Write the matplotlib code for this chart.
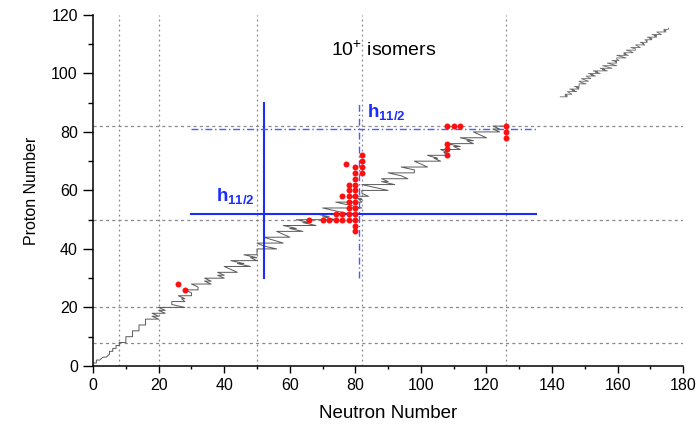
import matplotlib
matplotlib.use("Agg")
import matplotlib.pyplot as plt
import numpy as np
from matplotlib.ticker import MultipleLocator

plt.rcParams['font.family'] = ['Liberation Sans', 'DejaVu Sans']
plt.rcParams['mathtext.fontset'] = 'custom'
plt.rcParams['mathtext.rm'] = 'Liberation Sans'
plt.rcParams['mathtext.bf'] = 'Liberation Sans:bold'

# Line of stable nuclides: for each Z, lightest and heaviest stable N
stable_Z = [1, 2, 3, 4, 5, 6, 7, 8, 9, 10, 11, 12, 13, 14, 15, 16, 17, 18, 19, 20,
            21, 22, 23, 24, 25, 26, 27, 28, 29, 30, 31, 32, 33, 34, 35, 36, 37, 38, 39, 40,
            41, 42, 44, 45, 46, 47, 48, 49, 50, 51, 52, 53, 54, 55, 56, 57, 58, 59, 60,
            62, 63, 64, 65, 66, 67, 68, 69, 70, 71, 72, 73, 74, 75, 76, 77, 78, 79, 80,
            81, 82, 83]
stable_Nmin = [0, 1, 3, 5, 5, 6, 7, 8, 10, 10, 12, 12, 14, 14, 16, 16, 18, 18, 20, 20,
               24, 24, 27, 26, 30, 28, 32, 30, 34, 34, 38, 38, 42, 40, 44, 42, 48, 46, 50, 50,
               52, 50, 52, 58, 56, 60, 58, 64, 62, 70, 68, 74, 70, 78, 74, 81, 78, 82, 82,
               82, 88, 88, 94, 90, 98, 94, 100, 98, 104, 102, 107, 106, 110, 108, 114, 112, 118, 116,
               122, 122, 126]
stable_Nmax = [1, 2, 4, 5, 6, 7, 8, 10, 10, 12, 12, 14, 14, 16, 16, 20, 20, 22, 22, 28,
               24, 28, 28, 30, 30, 32, 32, 36, 36, 40, 40, 44, 42, 48, 46, 50, 50, 50, 50, 56,
               52, 58, 60, 58, 64, 62, 68, 66, 74, 72, 78, 74, 82, 78, 82, 82, 84, 82, 90,
               92, 90, 96, 94, 98, 98, 102, 100, 106, 105, 108, 108, 112, 112, 116, 116, 120, 118, 124,
               124, 126, 126]

# 10+ isomers (neutron number, proton number)
iso_N = [26, 28, 66, 70, 72, 74, 76, 78, 80,
         74, 76, 78, 80, 78, 80, 78, 80, 76, 78, 80, 78, 80, 78, 80,
         80, 80, 82, 80, 82, 82, 82, 77, 80, 80,
         108, 110, 112, 108, 108, 108, 126, 126, 126]
iso_Z = [28, 26, 50, 50, 50, 50, 50, 50, 50,
         52, 52, 52, 52, 54, 54, 56, 56, 58, 58, 58, 60, 60, 62, 62,
         64, 66, 66, 68, 68, 70, 72, 69, 48, 46,
         82, 82, 82, 76, 74, 72, 82, 80, 78]

magic_N = [8, 20, 50, 82, 126]
magic_Z = [8, 20, 50, 82]

# build the zigzag path through the stable nuclides
path_N, path_Z = [0], [1]
for z, n0, n1 in zip(stable_Z, stable_Nmin, stable_Nmax):
    path_N += [n0, n1]
    path_Z += [z, z]
path_N = np.array(path_N, float)
path_Z = np.array(path_Z, float)

fig = plt.figure(figsize=(7.0, 4.26), dpi=100)
ax = fig.add_axes([0.133, 0.141, 0.843, 0.824])

gcol = '#8a8a8a'
for n in magic_N:
    ax.axvline(n, color=gcol, ls=(0, (1.5, 2.5)), lw=0.9, zorder=1)
for z in magic_Z:
    ax.axhline(z, color=gcol, ls=(0, (2.5, 2.5)), lw=0.9, zorder=1)

ax.plot(path_N, path_Z, color='#5a5a5a', lw=0.7, zorder=2)

# thumbnail copy of the stable line (top right)
sel = path_Z >= 30
tn = 142.5 + (path_N[sel] - path_N[sel].min()) / (path_N[sel].max() - path_N[sel].min()) * 33
tz = 92 + (path_Z[sel] - path_Z[sel].min()) / (path_Z[sel].max() - path_Z[sel].min()) * 23.5
ax.plot(tn, tz, color='#6a6a6a', lw=0.6, zorder=2)

blue = '#1a2cff'
ax.plot([52, 52], [30, 90], color=blue, lw=1.5, zorder=3)
ax.plot([30, 135], [52, 52], color=blue, lw=1.5, zorder=3)
ax.plot([81, 81], [30, 90], color='#4a5cff', lw=1.0, ls=(0, (5, 2, 1, 2)), zorder=3)
ax.plot([30, 135], [81, 81], color='#4a5cff', lw=1.0, ls=(0, (5, 2, 1, 2)), zorder=3)

ax.plot(iso_N, iso_Z, 'o', color='#ff1010', ms=4.3, mec='none', zorder=4)

ax.text(37.5, 56.5, r'$\mathbf{h_{11/2}}$', color=blue, fontsize=13.5, zorder=5)
ax.text(83.5, 85.0, r'$\mathbf{h_{11/2}}$', color=blue, fontsize=13.5, zorder=5)
ax.text(88.5, 108, r'$10^{+}$ isomers', fontsize=14, ha='center', va='center', zorder=5)

ax.set_xlim(0, 180)
ax.set_ylim(0, 120)
ax.spines['top'].set_visible(False)
ax.spines['right'].set_visible(False)
for s in ('left', 'bottom'):
    ax.spines[s].set_linewidth(1.1)
ax.xaxis.set_major_locator(MultipleLocator(20))
ax.xaxis.set_minor_locator(MultipleLocator(10))
ax.yaxis.set_major_locator(MultipleLocator(20))
ax.yaxis.set_minor_locator(MultipleLocator(10))
ax.tick_params(axis='both', which='major', direction='out', width=1.0, labelsize=11.5)
ax.tick_params(axis='x', which='major', length=5, pad=4)
ax.tick_params(axis='x', which='minor', length=2.5, width=1.0)
ax.tick_params(axis='y', which='major', length=7, pad=4)
ax.tick_params(axis='y', which='minor', length=3.5, width=1.0)
ax.set_xlabel('Neutron Number', fontsize=13.5, labelpad=8)
ax.set_ylabel('Proton Number', fontsize=11.5, labelpad=9)

fig.savefig('out.png', dpi=100)
